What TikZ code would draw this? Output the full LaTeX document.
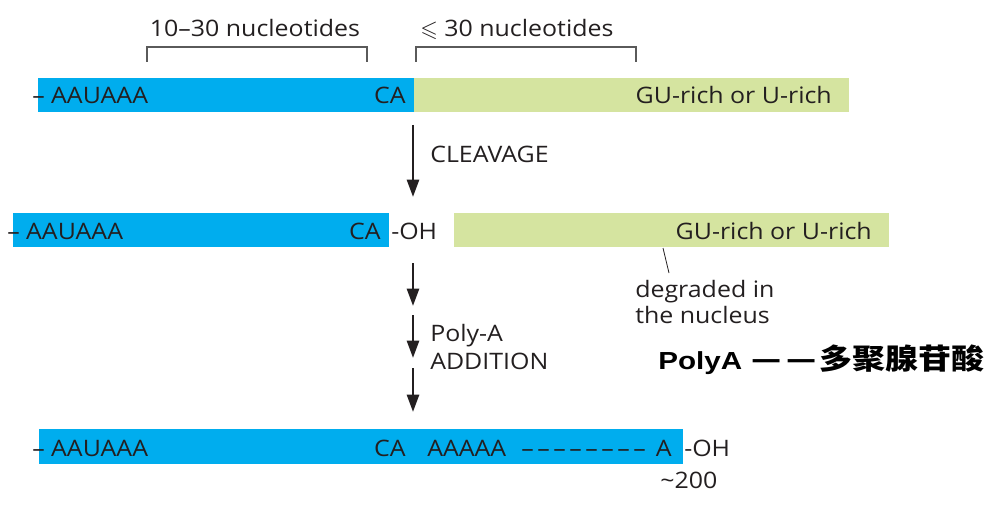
\documentclass[tikz,border=0pt]{standalone}
\usepackage{amssymb}
\usepackage{fontspec}
\setmainfont{Open Sans}[FakeStretch=1.1]
\newfontfamily\polyfont{Liberation Sans}[FakeStretch=1.2]
\newfontfamily\cjkfont{Noto Sans CJK SC}[FakeStretch=1.15]
\usepackage{tikz}
\usetikzlibrary{arrows.meta}

\definecolor{cyanbar}{RGB}{0,173,238}
\definecolor{greenbar}{RGB}{213,228,160}
\definecolor{inkdark}{RGB}{35,31,32}
\definecolor{bracegray}{RGB}{90,90,90}

\begin{document}
\begin{tikzpicture}[x=0.75pt,y=-0.75pt,
    seq/.style={inner sep=0pt,text=inkdark,font=\fontsize{17}{20}\selectfont},
    brace/.style={draw=bracegray,line width=0.8pt},
    flow/.style={draw=inkdark,line width=2pt,-{Triangle[length=13pt,width=9pt]}}]
    \useasboundingbox (0,0) rectangle (988,506);
    % Spacing brackets
    \draw[brace] (147,62) |- (367,47) -- (367,62);
    \draw[brace] (416,62) |- (636,47) -- (636,62);
    \node[seq,anchor=base] (span1) at (255,37) {10–30 nucleotides};
    \node[seq,anchor=base west] (span2) at (420,37) {$\leqslant$ 30 nucleotides};
    % Precursor RNA
    \fill[cyanbar] (38,78) rectangle (414,112);
    \fill[greenbar] (414,78) rectangle (849,112);
    \node[seq,anchor=base west] (sig1) at (32,104) {– AAUAAA};
    \node[seq,anchor=base east] (ca1) at (406,104) {CA};
    \node[seq,anchor=base east] (gu1) at (832,104) {GU-rich or U-rich};
    % Cleavage
    \coordinate (cut1) at (413,125);
    \coordinate (cut2) at (413,197);
    \draw[flow] (cut1) -- (cut2);
    \node[seq,anchor=base west] (cleave) at (430,162) {CLEAVAGE};
    % Cleaved RNA
    \fill[cyanbar] (13,213) rectangle (389,247);
    \fill[greenbar] (454,213) rectangle (889,247);
    \node[seq,anchor=base west] (sig2) at (7,239) {– AAUAAA};
    \node[seq,anchor=base east] (ca2) at (381,239) {CA};
    \node[seq,anchor=base west] (oh2) at (391,239) {-OH};
    \node[seq,anchor=base east] (gu2) at (872,239) {GU-rich or U-rich};
    % Degraded tail
    \coordinate (lead1) at (663,248);
    \coordinate (lead2) at (669,273);
    \draw[inkdark,line width=0.6pt] (lead1) -- (lead2);
    \node[seq,anchor=base west,align=left,font=\fontsize{17}{19.5}\selectfont] (deg) at (635,323) {degraded in\\the nucleus};
    % Poly-A addition
    \coordinate (add1) at (413,263);
    \coordinate (add2) at (413,306);
    \coordinate (add3) at (413,315);
    \coordinate (add4) at (413,358);
    \coordinate (add5) at (413,368);
    \coordinate (add6) at (413,412);
    \draw[flow] (add1) -- (add2);
    \draw[flow] (add3) -- (add4);
    \draw[flow] (add5) -- (add6);
    \node[seq,anchor=base west,align=left,font=\fontsize{17}{21}\selectfont] (polyadd) at (430,369) {Poly-A\\ADDITION};
    % Note
    \node[inner sep=0pt,anchor=base west,text=black] (note) at (658,369)
      {\polyfont\bfseries\fontsize{18.5}{22}\selectfont PolyA\hspace{7pt}{\cjkfont\bfseries\fontsize{21.5}{26}\selectfont —\kern4pt—\kern2pt多聚腺苷酸}};
    % Mature mRNA
    \fill[cyanbar] (39,429) rectangle (683,464);
    \node[seq,anchor=base west] (sig3) at (32,456) {– AAUAAA};
    \node[seq,anchor=base east] (ca3) at (406,456) {CA};
    \node[seq,anchor=base west] (tail) at (427,456) {AAAAA};
    \foreach \i in {0,...,7}
      \node[seq,anchor=base west] (dash\i) at ({521+16*\i},456) {–};
    \node[seq,anchor=base east] (tailend) at (672,456) {A};
    \node[seq,anchor=base west] (oh3) at (684,456) {-OH};
    \node[seq,anchor=base west] (len) at (660,488) {\textasciitilde200};
  \end{tikzpicture}
\end{document}
